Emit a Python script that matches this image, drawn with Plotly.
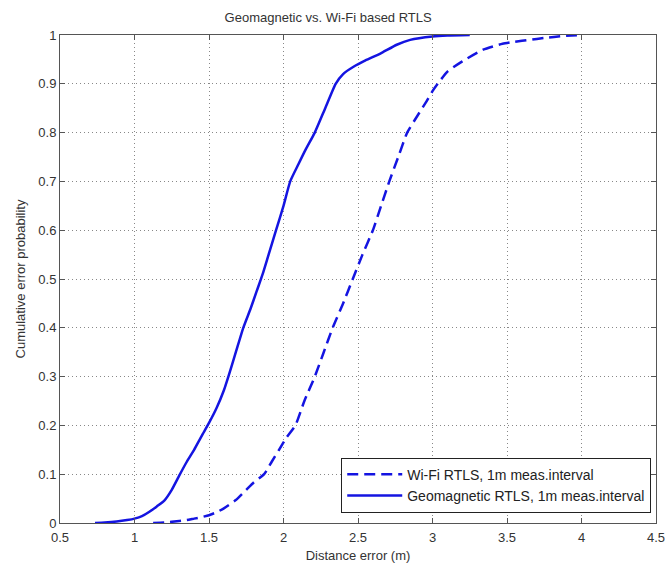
import plotly.graph_objects as go

# Wi-Fi RTLS (dashed) CDF points
wifi_x = [1.125, 1.20, 1.30, 1.35, 1.40, 1.45, 1.50, 1.55, 1.60, 1.68, 1.75, 1.80, 1.87, 1.92, 1.97,
          2.02, 2.08, 2.14, 2.21, 2.27, 2.33, 2.40, 2.465, 2.53, 2.60, 2.655, 2.71, 2.77, 2.83, 2.90,
          2.96, 3.00, 3.035, 3.10, 3.20, 3.34, 3.47, 3.55, 3.65, 3.75, 3.88, 4.00]
wifi_y = [0.0, 0.001, 0.004, 0.006, 0.009, 0.012, 0.016, 0.022, 0.030, 0.047, 0.068, 0.083, 0.10, 0.125, 0.15,
          0.175, 0.20, 0.25, 0.30, 0.35, 0.40, 0.45, 0.50, 0.55, 0.60, 0.65, 0.70, 0.75, 0.80, 0.835,
          0.864, 0.885, 0.90, 0.925, 0.946, 0.97, 0.982, 0.986, 0.99, 0.994, 0.998, 1.0]

# Geomagnetic RTLS (solid) CDF points
geo_x = [0.735, 0.80, 0.88, 0.95, 1.00, 1.05, 1.10, 1.15, 1.20, 1.25, 1.30, 1.35, 1.40, 1.45, 1.50,
         1.55, 1.60, 1.63, 1.68, 1.73, 1.78, 1.82, 1.86, 1.90, 1.95, 2.00, 2.045, 2.10, 2.15, 2.21,
         2.28, 2.35, 2.40, 2.47, 2.55, 2.65, 2.76, 2.85, 3.00, 3.10, 3.25]
geo_y = [0.0, 0.001, 0.003, 0.006, 0.009, 0.014, 0.023, 0.034, 0.046, 0.068, 0.097, 0.125, 0.150, 0.178, 0.205,
         0.235, 0.272, 0.30, 0.35, 0.40, 0.44, 0.475, 0.51, 0.55, 0.60, 0.65, 0.70, 0.735, 0.766, 0.80,
         0.85, 0.90, 0.92, 0.935, 0.948, 0.962, 0.98, 0.99, 0.997, 0.999, 1.0]

x_ticks = [0.5, 1, 1.5, 2, 2.5, 3, 3.5, 4, 4.5]
y_ticks = [0, 0.1, 0.2, 0.3, 0.4, 0.5, 0.6, 0.7, 0.8, 0.9, 1]

line_color = "rgb(20,20,225)"
font_fam = "Liberation Sans, Arial, sans-serif"
txt_color = "#333333"

fig = go.Figure()
fig.add_trace(go.Scatter(x=wifi_x, y=wifi_y, mode="lines", name="Wi-Fi RTLS, 1m meas.interval",
                         line=dict(color=line_color, width=2.5, dash="11px,6px", shape="spline", smoothing=0.5)))
fig.add_trace(go.Scatter(x=geo_x, y=geo_y, mode="lines", name="Geomagnetic RTLS, 1m meas.interval",
                         line=dict(color=line_color, width=2.5, shape="spline", smoothing=0.5)))

axis_common = dict(
    showline=True, linecolor="#555555", linewidth=1, mirror="ticks",
    ticks="inside", ticklen=5, tickcolor="#555555",
    showgrid=True, gridcolor="#888888", griddash="1px,3px", gridwidth=1,
    zeroline=False, automargin=False,
    tickfont=dict(family=font_fam, size=13, color=txt_color),
)

fig.update_layout(
    width=667, height=569,
    margin=dict(l=60, r=11, t=35, b=46, autoexpand=False),
    paper_bgcolor="white", plot_bgcolor="white",
    title=dict(text="Geomagnetic vs. Wi-Fi based RTLS", x=0.492, xanchor="center", y=0.97, yanchor="middle",
               font=dict(family=font_fam, size=13, color=txt_color)),
    xaxis=dict(range=[0.5, 4.5], tickvals=x_ticks, ticktext=[f"{v:g}" for v in x_ticks],
               ticklabelstandoff=2,
               title=dict(text="Distance error (m)", standoff=7,
                          font=dict(family=font_fam, size=13, color=txt_color)),
               **axis_common),
    yaxis=dict(range=[0, 1], tickvals=y_ticks, ticktext=[f"{v:g}" for v in y_ticks],
               title=dict(text="Cumulative error probability", standoff=9,
                          font=dict(family=font_fam, size=13, color=txt_color)),
               **axis_common),
    legend=dict(x=0.992, y=0.021, xanchor="right", yanchor="bottom",
                bgcolor="white", bordercolor="#222222", borderwidth=1,
                font=dict(family=font_fam, size=14, color="#222222"),
                tracegroupgap=0, itemwidth=55),
    showlegend=True,
)

fig.write_html("out.html", config={"displayModeBar": False},
               post_script="document.body.style.margin='0';")
